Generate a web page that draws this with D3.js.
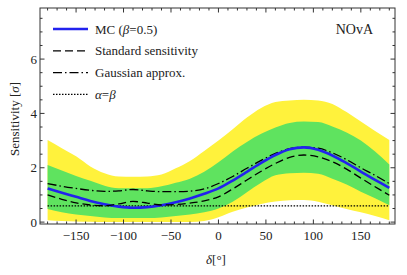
<!DOCTYPE html>
<html>
<head>
<meta charset="utf-8">
<script src="https://cdn.jsdelivr.net/npm/d3@7"></script>
<style>
    html, body { margin: 0; padding: 0; background: #fff; }
    svg { display: block; }
</style>
</head>
<body>
<div id="chart"></div>
<script>
const delta = [-180, -165, -150, -135, -120, -105, -90, -75, -60, -45, -30, -15, 0,
    15, 30, 45, 60, 75, 90, 105, 120, 135, 150, 165, 180];

// MC (beta = 0.5)
const mcValues = [1.24, 1.08, 0.93, 0.78, 0.66, 0.57, 0.53, 0.55, 0.62, 0.73, 0.87, 1.04, 1.24,
    1.53, 1.85, 2.18, 2.47, 2.68, 2.75, 2.66, 2.45, 2.17, 1.86, 1.55, 1.26];
// standard sensitivity
const standardValues = [1.0, 0.84, 0.71, 0.63, 0.6, 0.67, 0.76, 0.7, 0.63, 0.65, 0.7, 0.78, 0.93,
    1.22, 1.55, 1.87, 2.16, 2.38, 2.47, 2.4, 2.22, 1.95, 1.62, 1.3, 0.99];
// gaussian approx.
const gaussValues = [1.42, 1.32, 1.24, 1.17, 1.13, 1.15, 1.2, 1.15, 1.12, 1.12, 1.14, 1.22, 1.42,
    1.68, 1.98, 2.27, 2.53, 2.7, 2.76, 2.72, 2.55, 2.3, 2.0, 1.72, 1.42];
// alpha = beta
const alphaBetaValue = 0.6;

// 1 sigma band (green)
const band1Lower = [0.48, 0.36, 0.28, 0.22, 0.17, 0.15, 0.15, 0.15, 0.17, 0.22, 0.28, 0.36, 0.5,
    0.75, 1.1, 1.45, 1.72, 1.8, 1.82, 1.78, 1.6, 1.38, 1.12, 0.88, 0.62];
const band1Upper = [2.1, 1.9, 1.7, 1.52, 1.34, 1.25, 1.25, 1.25, 1.32, 1.45, 1.6, 1.85, 2.2,
    2.6, 2.95, 3.25, 3.48, 3.65, 3.7, 3.68, 3.52, 3.3, 3.0, 2.6, 2.12];
// 2 sigma band (yellow)
const band2Lower = [0.07, 0.04, 0.02, 0.01, 0.0, 0.0, 0.0, 0.0, 0.0, 0.0, 0.0, 0.04, 0.18,
    0.38, 0.54, 0.67, 0.76, 0.8, 0.81, 0.75, 0.62, 0.48, 0.36, 0.22, 0.07];
const band2Upper = [3.02, 2.72, 2.42, 2.05, 1.8, 1.68, 1.67, 1.68, 1.75, 1.98, 2.25, 2.62, 3.0,
    3.42, 3.85, 4.2, 4.42, 4.48, 4.5, 4.48, 4.35, 4.05, 3.7, 3.35, 3.02];

const xTicks = [-150, -100, -50, 0, 50, 100, 150];
const yTicks = [0, 2, 4, 6];

const legendItems = [
    { label: "MC", beta: true, color: "#2222ee", width: 2.6, dash: null },
    { label: "Standard sensitivity", color: "#000", width: 1.3, dash: "8,4" },
    { label: "Gaussian approx.", color: "#000", width: 1.3, dash: "9,3,1.5,3" },
    { label: "alphabeta", color: "#000", width: 1.3, dash: "1.5,1.5" }
];

const width = 407, height = 275;
const margin = { left: 40, right: 12, top: 8, bottom: 51 };
const serif = "'Liberation Serif', 'Times New Roman', 'DejaVu Serif', serif";

const x = d3.scaleLinear().domain([-188, 186])
    .range([margin.left, width - margin.right]);
const y = d3.scaleLinear().domain([-0.07, 7.88])
    .range([height - margin.bottom, margin.top]);

const svg = d3.select("#chart").append("svg")
    .attr("width", width)
    .attr("height", height)
    .attr("font-family", serif)
    .style("font-family", serif);

svg.append("clipPath").attr("id", "plot-clip")
    .append("rect")
    .attr("x", margin.left).attr("y", margin.top)
    .attr("width", width - margin.left - margin.right)
    .attr("height", height - margin.top - margin.bottom);

const plot = svg.append("g").attr("clip-path", "url(#plot-clip)");

const band = (lower, upper) => d3.area()
    .x((d, i) => x(delta[i]))
    .y0((d, i) => y(lower[i]))
    .y1((d, i) => y(upper[i]))
    .curve(d3.curveMonotoneX)(delta);

const line = values => d3.line()
    .x((d, i) => x(delta[i]))
    .y((d, i) => y(values[i]))
    .curve(d3.curveMonotoneX)(delta);

plot.append("path").attr("d", band(band2Lower, band2Upper)).attr("fill", "#fff23c");
plot.append("path").attr("d", band(band1Lower, band1Upper)).attr("fill", "#5fe35f");

// alpha = beta
plot.append("path")
    .attr("d", line(delta.map(() => alphaBetaValue)))
    .attr("fill", "none").attr("stroke", "#000")
    .attr("stroke-width", 1.3).attr("stroke-dasharray", "1.5,1.5");

plot.append("path")
    .attr("d", line(gaussValues))
    .attr("fill", "none").attr("stroke", "#000")
    .attr("stroke-width", 1.3).attr("stroke-dasharray", "9,3,1.5,3");

plot.append("path")
    .attr("d", line(mcValues))
    .attr("fill", "none").attr("stroke", "#2222ee")
    .attr("stroke-width", 2.6);

plot.append("path")
    .attr("d", line(standardValues))
    .attr("fill", "none").attr("stroke", "#000")
    .attr("stroke-width", 1.3).attr("stroke-dasharray", "8,4");

// frame and ticks (mathematica style, ticks on all sides pointing in)
const x0 = margin.left, x1 = width - margin.right;
const y0 = height - margin.bottom, y1 = margin.top;
const frame = svg.append("g").attr("stroke", "#333").attr("stroke-width", 1);

frame.append("rect")
    .attr("x", x0).attr("y", y1)
    .attr("width", x1 - x0).attr("height", y0 - y1)
    .attr("fill", "none");

const xMinor = d3.range(-180, 181, 10).filter(v => v % 50 !== 0);
const yMinor = d3.range(0, 7.6, 0.5).filter(v => v % 2 !== 0);

xTicks.forEach(v => {
    frame.append("line").attr("x1", x(v)).attr("x2", x(v)).attr("y1", y0).attr("y2", y0 - 4.5);
    frame.append("line").attr("x1", x(v)).attr("x2", x(v)).attr("y1", y1).attr("y2", y1 + 4.5);
});
xMinor.forEach(v => {
    frame.append("line").attr("x1", x(v)).attr("x2", x(v)).attr("y1", y0).attr("y2", y0 - 2.5);
    frame.append("line").attr("x1", x(v)).attr("x2", x(v)).attr("y1", y1).attr("y2", y1 + 2.5);
});
yTicks.forEach(v => {
    frame.append("line").attr("x1", x0).attr("x2", x0 + 4.5).attr("y1", y(v)).attr("y2", y(v));
    frame.append("line").attr("x1", x1).attr("x2", x1 - 4.5).attr("y1", y(v)).attr("y2", y(v));
});
yMinor.forEach(v => {
    frame.append("line").attr("x1", x0).attr("x2", x0 + 2.5).attr("y1", y(v)).attr("y2", y(v));
    frame.append("line").attr("x1", x1).attr("x2", x1 - 2.5).attr("y1", y(v)).attr("y2", y(v));
});

const fmt = v => v < 0 ? "\u2212" + Math.abs(v) : String(v);

svg.append("g").selectAll("text")
    .data(xTicks)
    .join("text")
    .attr("x", d => x(d))
    .attr("y", y0 + 16)
    .attr("text-anchor", "middle")
    .attr("font-size", 13)
    .attr("fill", "#222")
    .text(fmt);

svg.append("g").selectAll("text")
    .data(yTicks)
    .join("text")
    .attr("x", x0 - 3)
    .attr("y", d => y(d) + 4.5)
    .attr("text-anchor", "end")
    .attr("font-size", 13)
    .attr("fill", "#222")
    .text(fmt);

// axis titles
const yTitle = svg.append("text")
    .attr("transform", `translate(19,${(y0 + y1) / 2 + 3}) rotate(-90)`)
    .attr("text-anchor", "middle")
    .attr("font-size", 13)
    .attr("fill", "#222");
yTitle.append("tspan").text("Sensitivity [");
yTitle.append("tspan").attr("font-style", "italic").text("σ");
yTitle.append("tspan").text("]");

const xTitle = svg.append("text")
    .attr("x", 216).attr("y", 264)
    .attr("text-anchor", "middle")
    .attr("font-size", 13)
    .attr("fill", "#222");
xTitle.append("tspan").attr("font-style", "italic").text("δ");
xTitle.append("tspan").text("[°]");

// legend
const legend = svg.append("g");
legendItems.forEach((item, i) => {
    const ly = 29 + i * 21.8;
    legend.append("line")
        .attr("x1", 53).attr("x2", 88).attr("y1", ly).attr("y2", ly)
        .attr("stroke", item.color).attr("stroke-width", item.width)
        .attr("stroke-dasharray", item.dash);
    const t = legend.append("text")
        .attr("x", 95).attr("y", ly + 4.5)
        .attr("font-size", 13)
        .attr("fill", "#222");
    if (item.label === "alphabeta") {
        t.append("tspan").attr("font-style", "italic").text("α");
        t.append("tspan").text("=");
        t.append("tspan").attr("font-style", "italic").text("β");
    } else if (item.beta) {
        t.append("tspan").text("MC (");
        t.append("tspan").attr("font-style", "italic").text("β");
        t.append("tspan").text("=0.5)");
    } else {
        t.text(item.label);
    }
});

svg.append("text")
    .attr("x", 373).attr("y", 34)
    .attr("text-anchor", "end")
    .attr("font-size", 14)
    .attr("fill", "#222")
    .text("NOvA");
</script>
</body>
</html>
